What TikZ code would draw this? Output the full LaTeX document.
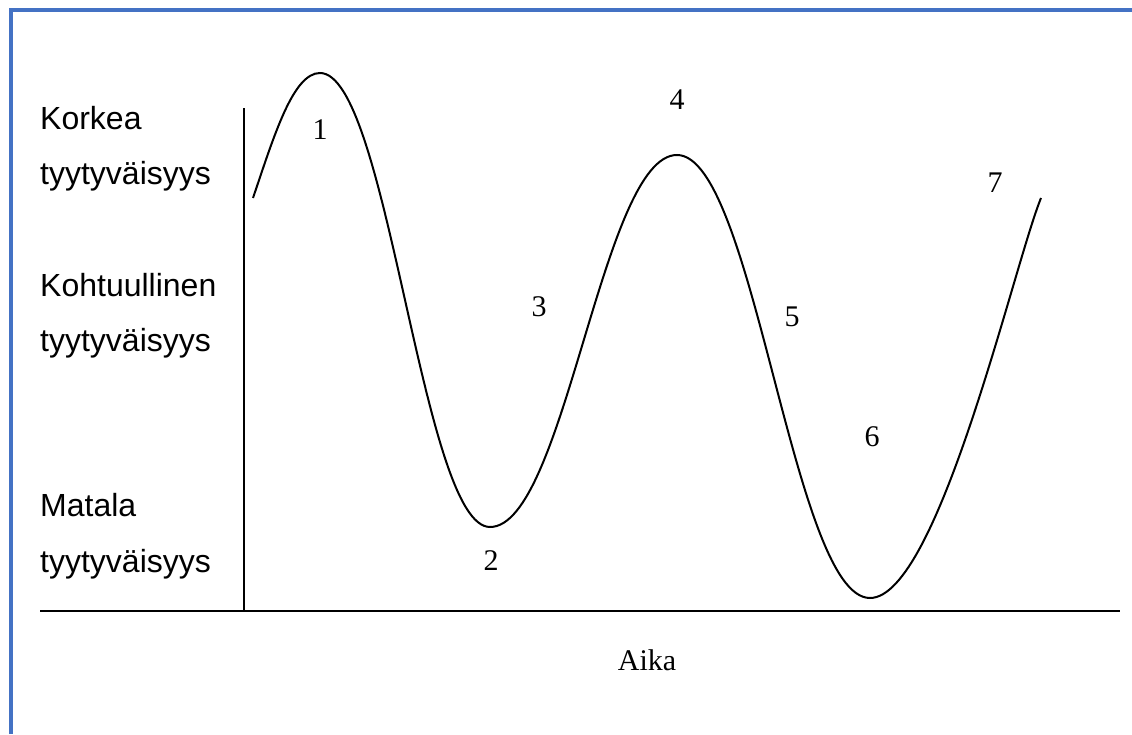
\documentclass[tikz,border=0pt]{standalone}
\usepackage{fontspec}
\setmainfont{Liberation Serif}
\setsansfont{Liberation Sans}
\definecolor{frameblue}{RGB}{68,114,196}
\tikzset{
  frame/.style={draw=frameblue, line width=4pt},
  axis/.style={line width=2.2pt},
  wave/.style={line width=2pt},
  level/.style={anchor=base west, inner sep=0pt, font=\sffamily\fontsize{32}{38}\selectfont},
  phase/.style={anchor=base, inner sep=0pt, font=\fontsize{30}{36}\selectfont}
}
\begin{document}
\begin{tikzpicture}[x=1pt,y=1pt]
  \useasboundingbox (0,0) rectangle (1132,734);
  \fill[white] (0,0) rectangle (1132,734);
  % frame
  \draw[frame] (10.5,0) -- (10.5,723.5) -- (1132,723.5);
  % axes
  \coordinate (origin) at (244,123);
  \coordinate (ytop) at (244,626);
  \coordinate (xleft) at (40,123);
  \coordinate (xright) at (1120,123);
  \draw[axis] (origin) -- (ytop);
  \draw[axis] (xleft) -- (xright);
  % levels
  \node[level] (high) at (40,604) {Korkea};
  \node[level] (high2) at (40,549) {tyytyväisyys};
  \node[level] (mid) at (40,437) {Kohtuullinen};
  \node[level] (mid2) at (40,382) {tyytyväisyys};
  \node[level] (low) at (40,217) {Matala};
  \node[level] (low2) at (40,162) {tyytyväisyys};
  \node[phase] (time) at (647,64) {Aika};
  % wave
  \coordinate (w0) at (253,536);
  \coordinate (w1) at (320,661);
  \coordinate (w2) at (490,207);
  \coordinate (w3) at (677,579);
  \coordinate (w4) at (870,136);
  \coordinate (w5) at (1041,536);
  \draw[wave] (w0) .. controls (274,598) and (293,661) .. (w1)
    .. controls (388,661) and (422,207) .. (w2)
    .. controls (565,207) and (602,579) .. (w3)
    .. controls (754,579) and (793,136) .. (w4)
    .. controls (938,136) and (1014,470) .. (w5);
  % phases
  \node[phase] (p1) at (320,594) {1};
  \node[phase] (p2) at (491,164) {2};
  \node[phase] (p3) at (539,417) {3};
  \node[phase] (p4) at (677,624) {4};
  \node[phase] (p5) at (792,407) {5};
  \node[phase] (p6) at (872,287) {6};
  \node[phase] (p7) at (995,541) {7};
\end{tikzpicture}
\end{document}
